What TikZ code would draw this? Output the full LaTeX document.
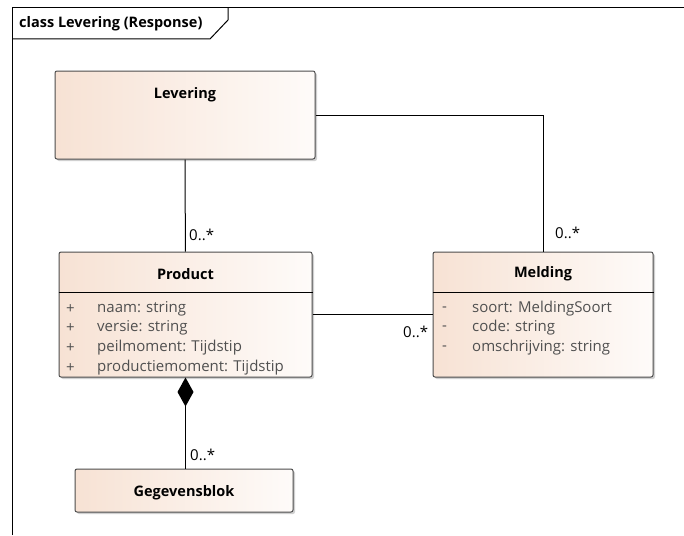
\documentclass[tikz,border=0pt]{standalone}
\usepackage{fontspec}
\setmainfont{Open Sans}
\usetikzlibrary{arrows.meta}
\usetikzlibrary{shadows}

\definecolor{klasL}{RGB}{247,226,212}
\definecolor{klasR}{RGB}{254,251,249}
\definecolor{attrgrijs}{RGB}{80,80,80}

\begin{document}
\begin{tikzpicture}[x=1pt,y=-1pt,
    klasse/.style={draw=black!70,line width=1pt,rounded corners=2pt,
      left color=klasL,right color=klasR,inner sep=0pt,
      drop shadow={shadow xshift=2pt,shadow yshift=-2pt,opacity=0.3,fill=black!60}},
    titel/.style={font=\fontsize{14.5}{17}\selectfont\bfseries,inner sep=0pt},
    attr/.style={font=\fontsize{15}{18}\selectfont,text=attrgrijs,anchor=west,inner sep=0pt},
    mult/.style={font=\fontsize{15}{18}\selectfont,anchor=west,inner sep=0pt},
    lijn/.style={line width=1pt,black}]
        \useasboundingbox (0,0) rectangle (684,535);
        \fill[white] (0,0) rectangle (684,535);
        \draw[lijn] (12,535) -- (12,8) -- (684,8);
        \draw[lijn] (12,39) -- (210,39) -- (228,20) -- (228,8);
        \node[titel,anchor=west] (kop) at (19,24) {class Levering (Response)};

        \node[klasse,minimum width=260pt,minimum height=88pt] (levering) at (185,115) {};
        \node[titel] (levering-t) at (185,95) {Levering};

        \node[klasse,minimum width=253pt,minimum height=125pt] (product) at (185.5,314.5) {};
        \node[titel] (product-t) at (185.5,274) {Product};
        \draw[lijn] (product.west |- 0,292) -- (product.east |- 0,292);
        \foreach \y/\a in {309/naam: string, 328/versie: string,
          348/peilmoment: Tijdstip, 368/productiemoment: Tijdstip} {
            \node[attr] (pz\y) at (66,\y) {+};
            \node[attr] (pa\y) at (97,\y) {\a};
        }

        \node[klasse,minimum width=220pt,minimum height=125pt] (melding) at (543,314.5) {};
        \node[titel] (melding-t) at (543,274) {Melding};
        \draw[lijn] (melding.west |- 0,292) -- (melding.east |- 0,292);
        \foreach \y/\a in {309/soort: MeldingSoort, 328/code: string,
          348/omschrijving: string} {
            \node[attr] (mz\y) at (442,\y) {-};
            \node[attr] (ma\y) at (472,\y) {\a};
        }

        \node[klasse,minimum width=218pt,minimum height=43pt] (gegevensblok) at (184,490.5) {};
        \node[titel] (gegevensblok-t) at (184,493) {Gegevensblok};

        \draw[lijn] (levering) -- (product);
        \draw[lijn] (levering.east) -| (melding.north);
        \draw[lijn] (product.east) -- (melding.west);
        \draw[lijn,{Diamond[length=29pt,width=16pt]}-] (product.south) -- (product.south |- gegevensblok.north);

        \node[mult] (m-product) at (189,235) {0..*};
        \node[mult] (m-melding-b) at (555,233) {0..*};
        \node[mult] (m-melding-l) at (403,332) {0..*};
        \node[mult] (m-gegevens) at (190,455) {0..*};
      \end{tikzpicture}
\end{document}
